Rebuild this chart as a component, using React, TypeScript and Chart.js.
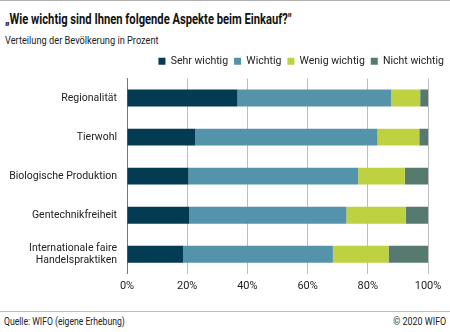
import React, { useEffect, useRef } from "react";
import { Chart, registerables } from "chart.js";

Chart.register(...registerables);

const categories: (string | string[])[] = [
  "Regionalität",
  "Tierwohl",
  "Biologische Produktion",
  "Gentechnikfreiheit",
  ["Internationale faire", "Handelspraktiken"],
];
const sehrWichtig = [36.7, 22.7, 20.4, 20.7, 18.6];
const wichtig = [51.0, 60.5, 56.4, 52.2, 49.8];
const wenigWichtig = [9.7, 13.9, 15.5, 19.7, 18.5];
const nichtWichtig = [2.6, 2.9, 7.7, 7.4, 13.1];
const seriesNames = ["Sehr wichtig", "Wichtig", "Wenig wichtig", "Nicht wichtig"];
const seriesColors = ["#023b52", "#5593ab", "#bed141", "#567a70"];
const xTicks = [0, 20, 40, 60, 80, 100];

const FONT = "Roboto, sans-serif";

const legendMargin = {
  id: "legendMargin",
  beforeInit(chart: any) {
    const orig = chart.legend.fit;
    chart.legend.fit = function () {
      orig.bind(chart.legend)();
      this.height += 2;
    };
  },
};

export default function App() {
  const ref = useRef<HTMLCanvasElement>(null);
  useEffect(() => {
    document.body.style.margin = "0";
    const ctx = ref.current!;
    const all = [sehrWichtig, wichtig, wenigWichtig, nichtWichtig];
    const chart = new Chart(ctx, {
      type: "bar",
      data: {
        labels: categories,
        datasets: all.map((d, i) => ({
          label: seriesNames[i],
          data: d,
          backgroundColor: seriesColors[i],
          borderWidth: 0,
          barPercentage: 0.9,
          categoryPercentage: 0.48,
        })),
      },
      plugins: [legendMargin],
      options: {
        indexAxis: "y",
        animation: false,
        responsive: false,
        maintainAspectRatio: false,
        layout: { padding: 0 },
        plugins: {
          legend: {
            position: "top",
            align: "end",
            labels: {
              boxWidth: 7,
              boxHeight: 7,
              padding: 6,
              color: "#222",
              font: { family: FONT, size: 10.5 },
            },
          },
          tooltip: { enabled: false },
        },
        scales: {
          x: {
            stacked: true,
            min: 0,
            max: 100,
            afterBuildTicks: (s: any) => {
              s.ticks = xTicks.map((v) => ({ value: v }));
            },
            afterFit: (s: any) => {
              s.paddingRight = 22;
            },
            ticks: {
              callback: (v: any) => v + "%",
              color: "#222",
              padding: 6,
              font: { family: FONT, size: 11 },
            },
            grid: { color: "#bdbdbd", drawTicks: false, lineWidth: 1 },
            border: { display: false },
          },
          y: {
            stacked: true,
            afterFit: (s: any) => {
              s.width = 127;
            },
            ticks: {
              color: "#222",
              padding: 10,
              font: { family: FONT, size: 10.5 },
            },
            grid: { display: false, drawTicks: false },
            border: { display: true, color: "#777", width: 1 },
          },
        },
      },
    });
    return () => chart.destroy();
  }, []);

  const txt: React.CSSProperties = {
    position: "absolute",
    fontFamily: FONT,
    color: "#222",
    whiteSpace: "nowrap",
    transformOrigin: "left top",
  };
  return (
    <div style={{ position: "relative", width: 450, height: 332, background: "#fff", overflow: "hidden" }}>
      <div style={{ position: "absolute", left: 0, top: 0, width: 450, height: 1, background: "#b0b0b0" }} />
      <div style={{ ...txt, left: 5, top: 11, fontSize: 14, fontWeight: "bold", color: "#111", transform: "scaleX(0.8)" }}>
        „Wie wichtig sind Ihnen folgende Aspekte beim Einkauf?"
      </div>
      <div style={{ ...txt, left: 5, top: 34, fontSize: 11, transform: "scaleX(0.84)" }}>
        Verteilung der Bevölkerung in Prozent
      </div>
      <canvas ref={ref} width={450} height={249} style={{ position: "absolute", left: 0, top: 50 }} />
      <div style={{ position: "absolute", left: 0, top: 311, width: 450, height: 1, background: "#bdbdbd" }} />
      <div style={{ ...txt, left: 4, top: 315, fontSize: 10.5, transform: "scaleX(0.82)" }}>
        Quelle: WIFO (eigene Erhebung)
      </div>
      <div style={{ ...txt, right: 4, top: 315, fontSize: 10.5, transform: "scaleX(0.85)", transformOrigin: "right top" }}>
        © 2020 WIFO
      </div>
    </div>
  );
}
